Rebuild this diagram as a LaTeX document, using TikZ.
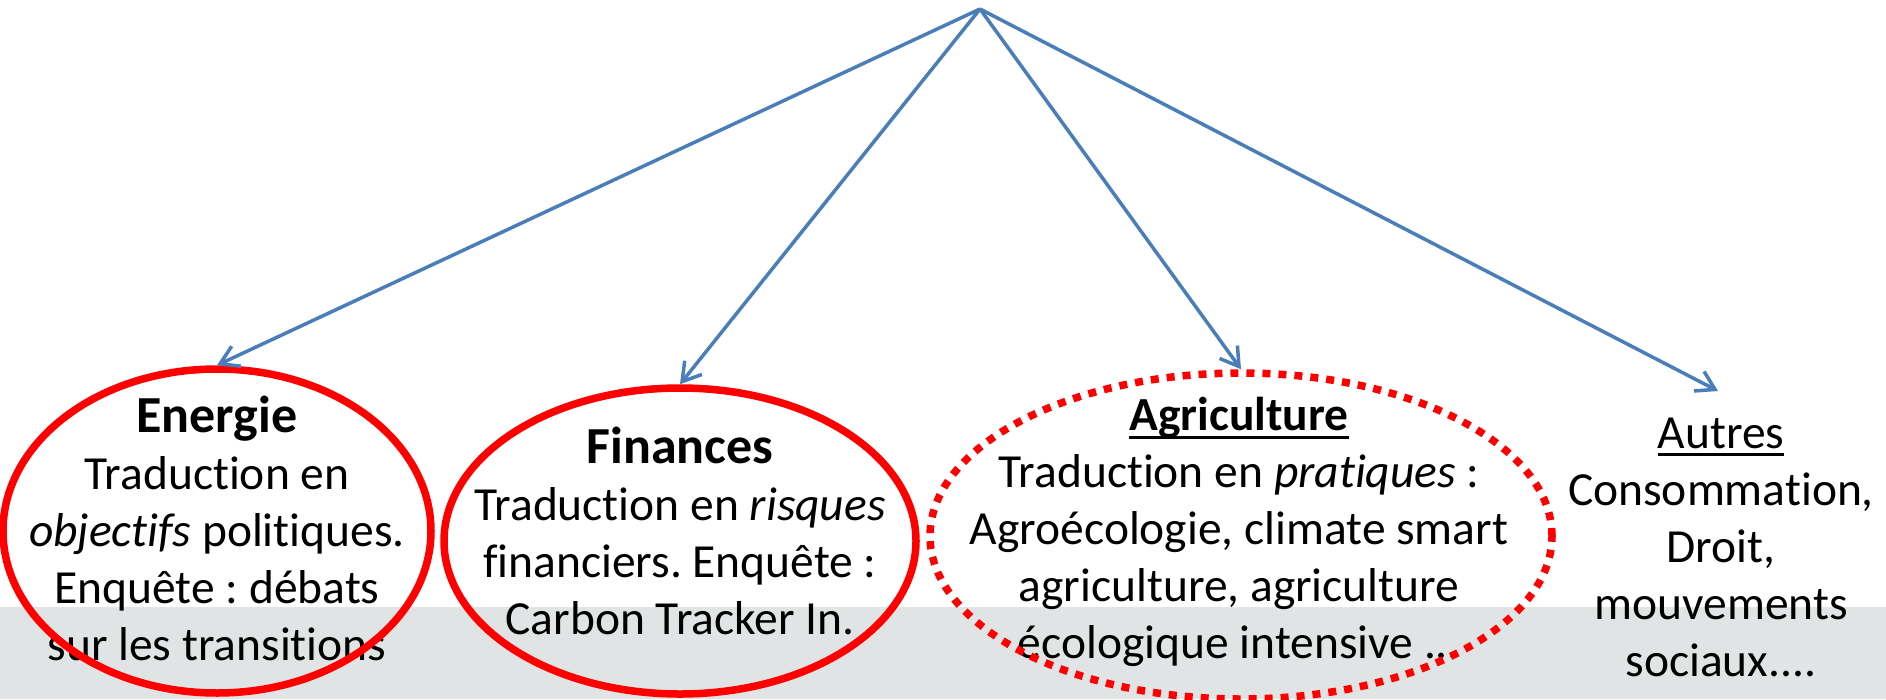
\documentclass[tikz,border=0pt]{standalone}
\usepackage{fontspec}
\setmainfont{Carlito}[Ligatures=NoCommon]
\frenchspacing
\usetikzlibrary{arrows.meta,shapes.geometric}
\definecolor{linkblue}{HTML}{4A7EBB}
\definecolor{bandgray}{HTML}{E1E4E4}
\definecolor{ringred}{HTML}{FF0000}
\newcommand{\bodysize}{\fontsize{47.5}{57}\selectfont}
\newcommand{\headsize}{\fontsize{52}{57}\selectfont}
\newcommand{\headline}[1]{\setbox0\hbox{#1}\rlap{\rule[-8pt]{\wd0}{3pt}}\box0}

\begin{document}
\begin{tikzpicture}[x=1pt,y=-1pt,
    link/.style={draw=linkblue,line width=3.5pt,-{Straight Barb[length=18pt,width=22pt]}},
    ring/.style={ellipse,draw=ringred,line width=7.5pt},
    dotring/.style={ring,dash pattern=on 8pt off 8pt},
    blurb/.style={align=center,font=\bodysize,inner sep=0pt}]
\useasboundingbox (0,0) rectangle (1886,699);
\fill[bandgray] (0,607) rectangle (1886,699);
% texts
\node[blurb] (energietxt) at (217,528) {{\headsize\bfseries Energie}\\Traduction en\\\textit{objectifs} politiques.\\Enquête : débats\\sur les transitions};
\node[blurb] (financestxt) at (680,531) {{\headsize\bfseries Finances}\\Traduction en \textit{risques}\\financiers. Enquête :\\Carbon Tracker In.};
\node[blurb] (agritxt) at (1239,532) {\headline{\textbf{Agriculture}}\\Traduction en \textit{pratiques} :\\Agroécologie, climate smart\\agriculture, agriculture\\écologique intensive ...};
\node[blurb] (autrestxt) at (1721,547) {\headline{Autres}\\Consommation,\\Droit,\\mouvements\\sociaux....};
% rings
\node[ring,minimum width=428pt,minimum height=324pt] (energie) at (217,531) {};
\node[ring,minimum width=472pt,minimum height=306pt] (finances) at (680,541) {};
\node[dotring,minimum width=622pt,minimum height=326pt] (agri) at (1241,536) {};
% arrows
\coordinate (apex) at (980,9);
\coordinate (autres) at (1718,391);
\foreach \n in {energie.north,finances.north,agri.north,autres}
    \draw[link] (apex) -- (\n);
\end{tikzpicture}
\end{document}
